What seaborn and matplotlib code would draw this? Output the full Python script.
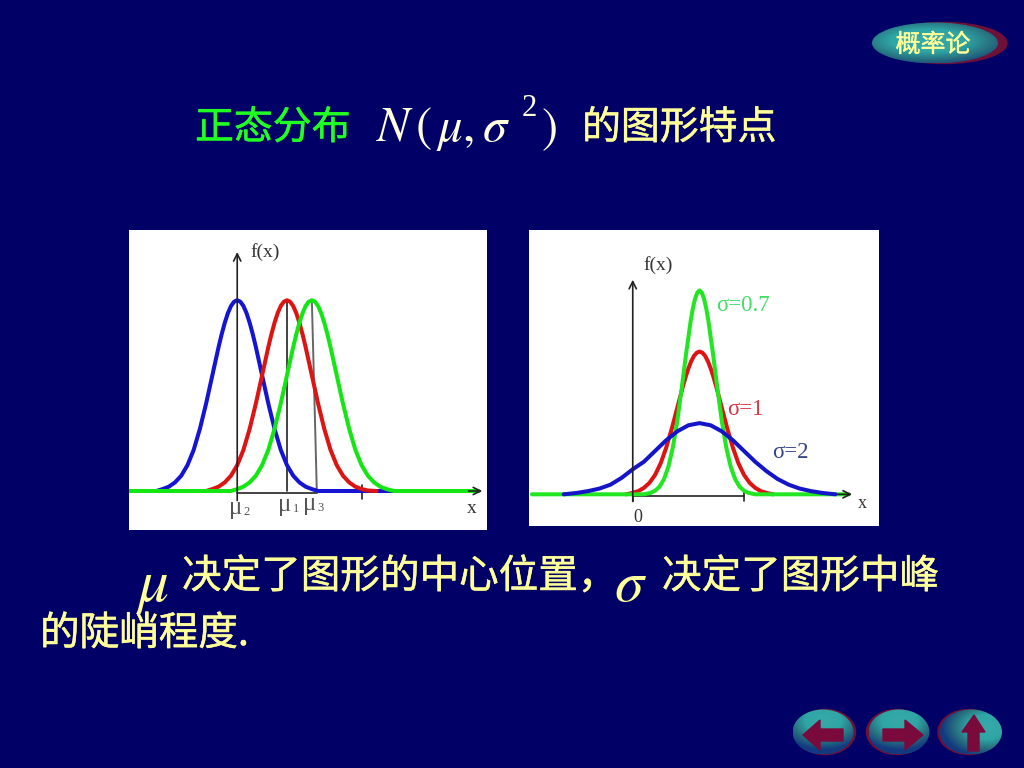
import numpy as np
import matplotlib
matplotlib.use("Agg")
import matplotlib.pyplot as plt
import matplotlib.patheffects as pe
from matplotlib.colors import LinearSegmentedColormap
from matplotlib.patches import Ellipse, Polygon
import seaborn as sns

sns.set_style("white")
plt.rcParams['font.family'] = ['Noto Sans CJK SC', 'DejaVu Sans']
plt.rcParams['mathtext.fontset'] = 'stix'

NAVY = "#000066"
PALE = "#FFFF99"
LIME = "#22FF22"
FORMULA = "#FFFFDD"
SERIF = ['Liberation Serif', 'DejaVu Serif']

# left picture: same spread, three centres
mu_labels = ["μ", "μ", "μ"]
mu_subs = ["2", "1", "3"]
mu_values = [0, 2, 3]
left_blue_x = [-3.25, -3, -2.75, -2.5, -2.25, -2, -1.75, -1.5, -1.25, -1, -0.75, -0.625, -0.5, -0.375, -0.25, -0.125, 0,
               0.125, 0.25, 0.375, 0.5, 0.625, 0.75, 1, 1.25, 1.5, 1.75, 2, 2.25, 2.5, 2.75, 3, 3.25, 6.3]
left_blue_y = [0.0, 0.004, 0.009, 0.018, 0.032, 0.054, 0.086, 0.13, 0.183, 0.242, 0.301, 0.328, 0.352, 0.372, 0.387, 0.396, 0.399,
               0.396, 0.387, 0.372, 0.352, 0.328, 0.301, 0.242, 0.183, 0.13, 0.086, 0.054, 0.032, 0.018, 0.009, 0.004, 0.0, 0.0]
left_red_x = [-1.25, -1, -0.75, -0.5, -0.25, 0, 0.25, 0.5, 0.75, 1, 1.25, 1.375, 1.5, 1.625, 1.75, 1.875, 2,
              2.125, 2.25, 2.375, 2.5, 2.625, 2.75, 3, 3.25, 3.5, 3.75, 4, 4.25, 4.5, 4.75, 5, 5.25, 5.6]
left_red_y = [0.0, 0.004, 0.009, 0.018, 0.032, 0.054, 0.086, 0.13, 0.183, 0.242, 0.301, 0.328, 0.352, 0.372, 0.387, 0.396, 0.399,
              0.396, 0.387, 0.372, 0.352, 0.328, 0.301, 0.242, 0.183, 0.13, 0.086, 0.054, 0.032, 0.018, 0.009, 0.004, 0.001, 0.0]
left_green_x = [-4.35, -0.25, 0, 0.25, 0.5, 0.75, 1, 1.25, 1.5, 1.75, 2, 2.25, 2.375, 2.5, 2.625, 2.75, 2.875, 3,
                3.125, 3.25, 3.375, 3.5, 3.625, 3.75, 4, 4.25, 4.5, 4.75, 5, 5.25, 5.5, 5.75, 6, 6.3, 9.7]
left_green_y = [0.0, 0.0, 0.004, 0.009, 0.018, 0.032, 0.054, 0.086, 0.13, 0.183, 0.242, 0.301, 0.328, 0.352, 0.372, 0.387, 0.396, 0.399,
                0.396, 0.387, 0.372, 0.352, 0.328, 0.301, 0.242, 0.183, 0.13, 0.086, 0.054, 0.032, 0.018, 0.009, 0.004, 0.0, 0.0]

# right picture: same centre, three spreads
sigma_labels = ["σ=0.7", "σ=1", "σ=2"]
right_green_x = [-4.53, 0.5, 0.8, 1, 1.2, 1.4, 1.6, 1.8, 2, 2.2, 2.4, 2.6, 2.7, 2.8, 2.9, 3,
                 3.1, 3.2, 3.3, 3.4, 3.6, 3.8, 4, 4.2, 4.4, 4.6, 4.8, 5, 5.2, 5.5, 9.7]
right_green_y = [0.0, 0.0, 0.004, 0.01, 0.021, 0.042, 0.077, 0.131, 0.205, 0.297, 0.395, 0.484, 0.52, 0.547, 0.564, 0.57,
                 0.564, 0.547, 0.52, 0.484, 0.395, 0.297, 0.205, 0.131, 0.077, 0.042, 0.021, 0.01, 0.004, 0.0, 0.0]
right_red_x = [-0.3, 0, 0.25, 0.5, 0.75, 1, 1.25, 1.5, 1.75, 2, 2.25, 2.375, 2.5, 2.625, 2.75, 2.875, 3,
               3.125, 3.25, 3.375, 3.5, 3.625, 3.75, 4, 4.25, 4.5, 4.75, 5, 5.25, 5.5, 5.75, 6, 6.3]
right_red_y = [0.0, 0.004, 0.009, 0.018, 0.032, 0.054, 0.086, 0.13, 0.183, 0.242, 0.301, 0.328, 0.352, 0.372, 0.387, 0.396, 0.399,
               0.396, 0.387, 0.372, 0.352, 0.328, 0.301, 0.242, 0.183, 0.13, 0.086, 0.054, 0.032, 0.018, 0.009, 0.004, 0.0]
right_blue_x = [-3.1, -2.5, -2, -1.5, -1, -0.5, 0, 0.5, 1, 1.5, 2, 2.5, 3,
                3.5, 4, 4.5, 5, 5.5, 6, 6.5, 7, 7.5, 8, 8.5, 9.1]
right_blue_y = [0.0, 0.004, 0.009, 0.016, 0.027, 0.046, 0.07, 0.091, 0.121, 0.151, 0.176, 0.193, 0.199,
                0.193, 0.176, 0.151, 0.121, 0.091, 0.065, 0.043, 0.027, 0.016, 0.009, 0.004, 0.0]


def panel(fig, left, top, right, bottom):
    ax = fig.add_axes([left / 1024, 1 - bottom / 768, (right - left) / 1024, (bottom - top) / 768])
    ax.set_facecolor("white")
    ax.set(xticks=[], yticks=[], xlabel="", ylabel="")
    sns.despine(ax=ax, left=True, bottom=True)
    return ax


def curve(ax, x, y, color):
    sns.lineplot(x=x, y=y, ax=ax, color=color, linewidth=2.9, sort=False, estimator=None)


def arrow(ax, start, end):
    ax.annotate("", xy=end, xytext=start,
                arrowprops=dict(arrowstyle="->", color="#222222", lw=1.2, shrinkA=0, shrinkB=0, mutation_scale=13))


def button(bg, cx, cy, w, h, shadow_dx, light_x, light_y):
    # round shaded knob with a dark red edge behind it
    bg.add_patch(Ellipse((cx + shadow_dx, cy), w, h, color="#6e1038", zorder=1))
    xx, yy = np.meshgrid(np.linspace(-1, 1, 120), np.linspace(-1, 1, 80))
    t = np.clip(1.15 - np.hypot((xx - light_x) / 1.25, (yy - light_y) / 1.15), 0, 1)
    cmap = LinearSegmentedColormap.from_list("knob", ["#123a80", "#27707f", "#2fa5a5", "#35a8a8"])
    im = bg.imshow(t, cmap=cmap, vmin=0, vmax=1, aspect="auto", zorder=2,
                   extent=(cx - w / 2, cx + w / 2, cy + h / 2, cy - h / 2))
    im.set_clip_path(Ellipse((cx, cy), w, h, transform=bg.transData))


def heavy(color, width=0.35):
    return [pe.withStroke(linewidth=width, foreground=color)]


fig = plt.figure(figsize=(10.24, 7.68), dpi=100, facecolor=NAVY)

bg = fig.add_axes([0, 0, 1, 1])
bg.axis("off")
button(bg, 935, 43, 126, 41, 9, -0.1, -0.1)
button(bg, 823, 732, 61, 45, 2, 0.0, -0.5)
button(bg, 899, 732, 61, 45, -2, 0.0, -0.5)
button(bg, 971, 732, 62, 45, -2, 0.5, -0.2)
bg.set_xlim(0, 1024)
bg.set_ylim(768, 0)
ARROW = "#7a0a3c"
bg.add_patch(Polygon([(843, 729), (820, 729), (820, 720), (803, 735), (820, 750), (820, 741), (843, 741)],
                     color=ARROW, zorder=3))
bg.add_patch(Polygon([(883, 729), (905, 729), (905, 720), (923, 735), (905, 750), (905, 741), (883, 741)],
                     color=ARROW, zorder=3))
bg.add_patch(Polygon([(968, 751), (979, 751), (979, 732), (985, 732), (974, 715), (962, 732), (968, 732)],
                     color=ARROW, zorder=3))

bg.text(933, 45, "概率论", color=PALE, fontsize=18, ha="center", va="center", zorder=4,
        path_effects=heavy(PALE, 0.25))
bg.text(195, 128, "正态分布", color=LIME, fontsize=28, ha="left", va="center", path_effects=heavy(LIME))
bg.text(376, 128, "$N\\,(\\,\\mu,\\sigma$", color=FORMULA, fontsize=35, ha="left", va="center")
bg.text(529, 109, "2", color=FORMULA, fontsize=22, family=SERIF, ha="center", va="center")
bg.text(549, 128, "$)$", color=FORMULA, fontsize=35, ha="center", va="center")
bg.text(582, 128, "的图形特点", color=PALE, fontsize=28, ha="left", va="center", path_effects=heavy(PALE))

bg.text(135, 585, "$\\mu$", color=PALE, fontsize=44, ha="left", va="center")
bg.text(182, 577, "决定了图形的中心位置，", color=PALE, fontsize=28.5, ha="left", va="center",
        path_effects=heavy(PALE))
bg.text(614, 584, "$\\sigma$", color=PALE, fontsize=42, ha="left", va="center")
bg.text(662, 577, "决定了图形中峰", color=PALE, fontsize=28.5, ha="left", va="center", path_effects=heavy(PALE))
bg.text(40, 634, "的陡峭程度.", color=PALE, fontsize=28.5, ha="left", va="center", path_effects=heavy(PALE))

# left picture
ax1 = panel(fig, 129, 230, 487, 530)
ax1.set_xlim(-4.35, 10.04)
ax1.set_ylim(-0.0816, 0.546)
ax1.plot([0, 3.2], [-0.004, -0.004], color="#222222", lw=1.2)
ax1.plot([mu_values[1], mu_values[1]], [0, 0.399], color="#222222", lw=1.2)
ax1.plot([mu_values[2], 3.2], [0.399, -0.002], color="#666666", lw=1.4)
ax1.plot([5, 5], [0.012, -0.016], color="#222222", lw=1.2)
arrow(ax1, (0, -0.02), (0, 0.5))
arrow(ax1, (9.3, 0), (9.85, 0))
curve(ax1, left_blue_x, left_blue_y, "#1414D2")
curve(ax1, left_red_x, left_red_y, "#DC1414")
curve(ax1, left_green_x, left_green_y, "#14E614")
for lab, sub, m, dy in zip(mu_labels, mu_subs, mu_values, [-0.036, -0.03, -0.028]):
    ax1.text(m - 0.08, dy, lab, color="#555555", fontsize=18, family=SERIF, ha="center", va="center")
    ax1.text(m + 0.36, dy - 0.008, sub, color="#555555", fontsize=9, family=SERIF, ha="center", va="center")
ax1.text(0.55, 0.5, "f(x)", color="#333333", fontsize=14, family=SERIF, ha="left", va="center")
ax1.text(9.42, -0.036, "x", color="#333333", fontsize=14, family=SERIF, ha="center", va="center")

# right picture
ax2 = panel(fig, 529, 230, 879, 526)
ax2.set_xlim(-4.66, 11.06)
ax2.set_ylim(-0.0886, 0.739)
ax2.plot([0, 5], [-0.004, -0.004], color="#222222", lw=1.2)
ax2.plot([5, 5], [0.01, -0.02], color="#222222", lw=1.2)
ax2.plot([0, 0], [0.01, -0.02], color="#222222", lw=1.2)
arrow(ax2, (0, -0.02), (0, 0.6))
arrow(ax2, (9.2, 0), (9.85, 0))
curve(ax2, right_red_x, right_red_y, "#DC1414")
curve(ax2, right_green_x, right_green_y, "#22E622")
curve(ax2, right_blue_x, right_blue_y, "#1414C8")
ax2.text(0.24, -0.064, "0", color="#333333", fontsize=13, family=SERIF, ha="center", va="center")
ax2.text(0.5, 0.641, "f(x)", color="#333333", fontsize=14, family=SERIF, ha="left", va="center")
ax2.text(10.3, -0.025, "x", color="#333333", fontsize=13, family=SERIF, ha="center", va="center")
ax2.text(4.94, 0.527, sigma_labels[0], color="#44DD66", fontsize=16.5, family=SERIF, ha="center", va="center")
ax2.text(5.04, 0.238, sigma_labels[1], color="#DD3344", fontsize=16.5, family=SERIF, ha="center", va="center")
ax2.text(7.1, 0.118, sigma_labels[2], color="#334488", fontsize=16.5, family=SERIF, ha="center", va="center")

fig.savefig("out.png", dpi=100, facecolor=NAVY)
